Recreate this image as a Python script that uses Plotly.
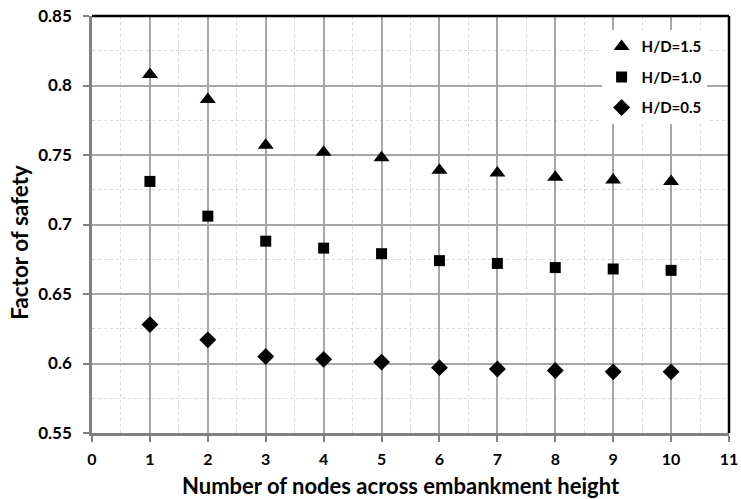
import plotly.graph_objects as go

nodes = [1, 2, 3, 4, 5, 6, 7, 8, 9, 10]
fs_hd15 = [0.808, 0.790, 0.757, 0.752, 0.748, 0.739, 0.737, 0.734, 0.732, 0.731]
fs_hd10 = [0.731, 0.706, 0.688, 0.683, 0.679, 0.674, 0.672, 0.669, 0.668, 0.667]
fs_hd05 = [0.628, 0.617, 0.605, 0.603, 0.601, 0.597, 0.596, 0.595, 0.594, 0.594]

series = [
    ("H/D=1.5", fs_hd15, "triangle-up", 14),
    ("H/D=1.0", fs_hd10, "square", 11),
    ("H/D=0.5", fs_hd05, "diamond", 13),
]

x_title = "Number of nodes across embankment height"
y_title = "Factor of safety"

FONT = "Lato"

fig = go.Figure()
for name, vals, sym, size in series:
    fig.add_trace(go.Scatter(
        x=nodes, y=vals, mode="markers", name=name, legendgroup=name,
        marker=dict(symbol=sym, size=size, color="black"),
    ))

grid_major = "#a6a6a6"
grid_minor = "#d9d9d9"

fig.update_layout(
    width=741, height=499,
    margin=dict(l=92, r=12, t=16, b=66, autoexpand=False),
    paper_bgcolor="white", plot_bgcolor="white",
    font=dict(family=FONT, color="black"),
    legend=dict(
        x=0.8, xanchor="left", y=0.966, yanchor="top",
        bgcolor="white", borderwidth=0,
        font=dict(family=FONT, size=15, color="black", weight="bold"),
        tracegroupgap=8, itemwidth=30,
    ),
    xaxis=dict(
        range=[0, 11], dtick=1, tick0=0, automargin=False,
        showgrid=True, gridcolor=grid_major, gridwidth=1.5,
        minor=dict(dtick=0.5, showgrid=True, gridcolor=grid_minor, griddash="dot", gridwidth=1),
        showline=True, linecolor="#808080", linewidth=2.5,
        ticks="outside", ticklen=6, tickcolor="#808080", tickwidth=1.5,
        tickfont=dict(family=FONT, size=16, weight="bold"),
        ticklabelstandoff=4,
        zeroline=False,
    ),
    yaxis=dict(
        range=[0.55, 0.85], dtick=0.05, tick0=0.55, automargin=False,
        showgrid=True, gridcolor=grid_major, gridwidth=1.5,
        minor=dict(dtick=0.025, showgrid=True, gridcolor=grid_minor, griddash="dot", gridwidth=1),
        showline=True, linecolor="#808080", linewidth=2.5,
        ticks="outside", ticklen=6, tickcolor="#808080", tickwidth=1.5,
        tickfont=dict(family=FONT, size=17, weight="bold"),
        ticklabelstandoff=8,
        tickformat="~g",
        zeroline=False,
    ),
)

# axis titles
fig.add_annotation(text=x_title, xref="paper", yref="paper", x=0.485, y=-0.127,
                   xanchor="center", yanchor="middle", showarrow=False,
                   font=dict(family=FONT, size=22, weight="bold", color="black"))
fig.add_annotation(text=y_title, xref="paper", yref="paper", x=-0.113, y=0.456,
                   xanchor="center", yanchor="middle", showarrow=False, textangle=-90,
                   font=dict(family=FONT, size=22.5, weight="bold", color="black"))

# dark frame on the top and right edges of the plot area
fig.add_shape(type="line", xref="paper", yref="paper", x0=0, x1=1, y0=1, y1=1,
              line=dict(color="black", width=2.5), layer="above")
fig.add_shape(type="line", xref="paper", yref="paper", x0=1, x1=1, y0=0, y1=1,
              line=dict(color="black", width=2.5), layer="above")

fig.write_html("out.html")
